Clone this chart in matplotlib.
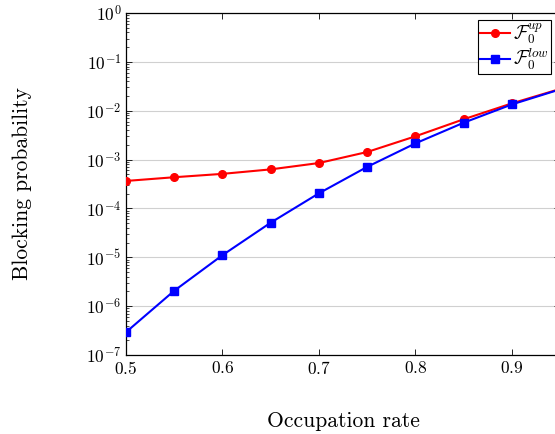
import matplotlib
matplotlib.use('Agg')
import matplotlib.pyplot as plt
import numpy as np
from matplotlib.ticker import LogLocator, NullFormatter

plt.rcParams['font.family'] = 'cmr10'
plt.rcParams['mathtext.fontset'] = 'cm'
plt.rcParams['axes.formatter.use_mathtext'] = True

# ------------------------------------------------------------------
# Data
# ------------------------------------------------------------------
occupation = [0.5, 0.55, 0.6, 0.65, 0.7, 0.75, 0.8, 0.85, 0.9, 0.95]
f0_up = [3.65e-4, 4.35e-4, 5.1e-4, 6.3e-4, 8.5e-4, 1.43e-3, 3.0e-3, 6.7e-3, 1.42e-2, 2.8e-2]
f0_low = [2.9e-7, 2.05e-6, 1.1e-5, 5.1e-5, 2.04e-4, 7.1e-4, 2.15e-3, 5.7e-3, 1.35e-2, 2.75e-2]

fig = plt.figure(figsize=(5.55, 4.34), dpi=100)
ax = fig.add_axes([0.2265, 0.182, 0.7832, 0.788])

ax.plot(occupation, f0_up, color='red', marker='o', markersize=5.5,
        linewidth=1.5, label=r'$\mathcal{F}_0^{up}$', zorder=3)
ax.plot(occupation, f0_low, color='blue', marker='s', markersize=5.5,
        linewidth=1.5, label=r'$\mathcal{F}_0^{low}$', zorder=3)

ax.set_yscale('log')
ax.set_ylim(1e-7, 1e0)
ax.set_xlim(0.5, 0.95)
ax.set_xticks([0.5, 0.6, 0.7, 0.8, 0.9])
ax.yaxis.set_major_locator(LogLocator(base=10, numticks=10))
ax.yaxis.set_minor_locator(LogLocator(base=10, subs=np.arange(2, 10), numticks=10))
ax.yaxis.set_minor_formatter(NullFormatter())

ax.grid(True, axis='y', which='major', color='#d0d0d0', linewidth=0.8, zorder=0)
ax.tick_params(which='both', direction='in', top=True, right=True, labelsize=12.5)
ax.tick_params(axis='x', pad=3.5)
ax.tick_params(axis='y', pad=3)
ax.tick_params(which='major', length=4.5, width=0.6)
ax.tick_params(which='minor', length=2.5, width=0.5)
for sp in ax.spines.values():
    sp.set_linewidth(0.9)

ax.set_xlabel('Occupation rate', fontsize=15.5, labelpad=25)
ax.set_ylabel('Blocking probability', fontsize=15.5, labelpad=39)

# legend box sits just left of the (cropped) right spine
leg = ax.legend(loc='upper right', bbox_to_anchor=(0.978, 0.98), borderaxespad=0,
                fontsize=13.5, frameon=True, fancybox=False, edgecolor='black',
                borderpad=0.1, handlelength=1.6, handletextpad=0.2,
                labelspacing=0.0, framealpha=1)
leg.get_frame().set_linewidth(0.8)

fig.savefig('out.png', dpi=100)
